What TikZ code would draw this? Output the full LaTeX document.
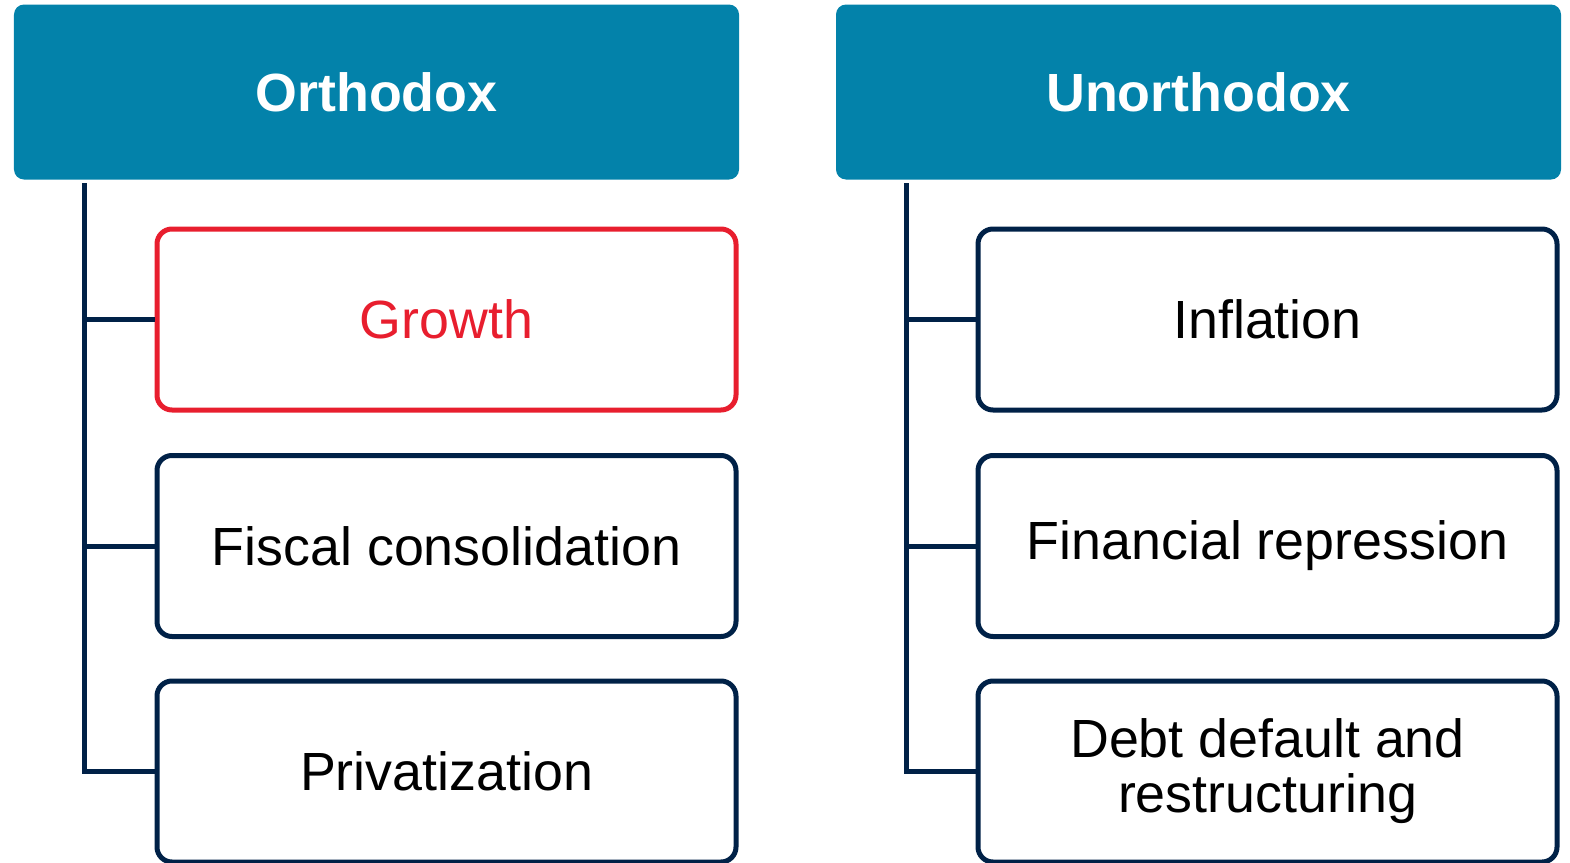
\documentclass[tikz,border=0pt]{standalone}
\usepackage{fontspec}
\setmainfont{Liberation Sans}
\usetikzlibrary{positioning}

\definecolor{headteal}{RGB}{3,130,170}
\definecolor{navy}{RGB}{0,33,71}
\definecolor{alertred}{RGB}{232,30,46}

\begin{document}
\begin{tikzpicture}[
  head/.style={fill=headteal, rounded corners=0.1cm, minimum width=7.25cm,
               minimum height=1.75cm, text=white,
               font=\fontsize{15.3}{18}\selectfont\bfseries},
  item/.style={draw=navy, line width=0.05cm, rounded corners=0.15cm, fill=white,
               minimum width=5.79cm, minimum height=1.81cm, align=center,
               font=\fontsize{15.3}{15.6}\selectfont},
  hot/.style={item, draw=alertred, text=alertred},
  branch/.style={draw=navy, line width=0.05cm}
]
  \useasboundingbox (0,0) rectangle (15.7,8.62);

  % column headers
  \node[head] (orth)   at (3.765, 7.70)  {Orthodox};
  \node[head] (unorth) at (11.985, 7.70) {Unorthodox};

  % spines hanging below the headers
  \coordinate (spineL) at (0.845, 6.79);
  \coordinate (spineR) at (9.065, 6.79);

  % left column
  \node[hot]  (growth)  at (4.465, 5.425) {Growth};
  \node[item] (fiscal)  at (4.465, 3.16)  {Fiscal consolidation};
  \node[item] (privat)  at (4.465, 0.905) {Privatization};

  % right column
  \node[item] (infl)    at (12.675, 5.425) {Inflation};
  \node[item] (repress) at (12.675, 3.16)  {Financial repression};
  \node[item] (default) at (12.675, 0.905) {Debt default and\\restructuring};

  \draw[branch] (spineL) |- (privat.west);
  \draw[branch] (spineL |- growth.west) -- (growth.west);
  \draw[branch] (spineL |- fiscal.west) -- (fiscal.west);

  \draw[branch] (spineR) |- (default.west);
  \draw[branch] (spineR |- infl.west) -- (infl.west);
  \draw[branch] (spineR |- repress.west) -- (repress.west);
\end{tikzpicture}
\end{document}
